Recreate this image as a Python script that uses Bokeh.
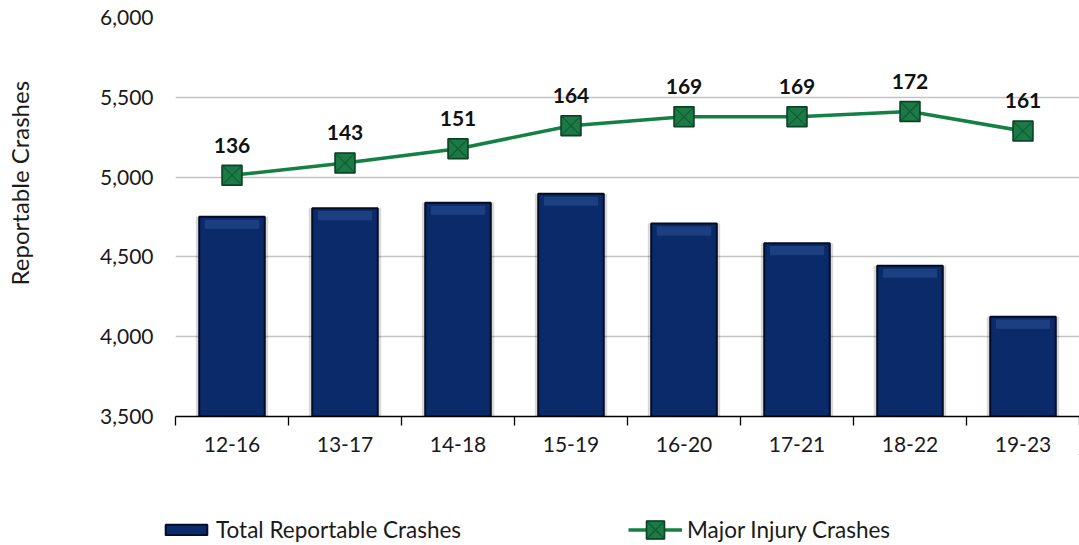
from bokeh.plotting import figure
from bokeh.layouts import column
from bokeh.models import Range1d, FixedTicker, Legend, LegendItem, ColumnDataSource, NumeralTickFormatter
from bokeh.core.properties import value
from bokeh.embed import file_html
from bokeh.resources import INLINE

categories = ["12-16", "13-17", "14-18", "15-19", "16-20", "17-21", "18-22", "19-23"]
total_crashes = [4751, 4805, 4839, 4895, 4709, 4586, 4444, 4125]
major_injury = [136, 143, 151, 164, 169, 169, 172, 161]
series_names = ["Total Reportable Crashes", "Major Injury Crashes"]

FONT = "Lato"
BAR_FILL, BAR_LINE = "#0b2a6a", "#020c24"
LINE_COL, MK_FILL, MK_LINE = "#148043", "#1b7a45", "#0b3f22"

x = [i + 0.5 for i in range(len(categories))]
src = ColumnDataSource(dict(
    x=x, total=total_crashes, inj=major_injury,
    lbl=[str(v) for v in major_injury],
    bevel_top=[v - 18 for v in total_crashes],
    bevel_bot=[v - 75 for v in total_crashes],
))

W = 1079
p = figure(width=W, height=454, output_backend="svg", toolbar_location=None,
           x_range=Range1d(0, len(categories)), y_range=Range1d(3500, 6000),
           min_border_left=175, min_border_top=17, min_border_right=0, min_border_bottom=0)
p.extra_y_ranges = {"inj": Range1d(0, 225)}
p.outline_line_color = None
p.xgrid.grid_line_color = None
p.ygrid.grid_line_color = "#c4c4c4"
p.ygrid.grid_line_width = 1.3

# bars with shadow and bevel
p.vbar(x="x", top="total", bottom=3500, width=0.64, source=src,
       fill_color="#000000", fill_alpha=0.15, line_color=None)
p.vbar(x="x", top="total", bottom=3500, width=0.58, source=src,
       fill_color=BAR_FILL, line_color=BAR_LINE, line_width=2)
p.vbar(x="x", top="bevel_top", bottom="bevel_bot", width=0.48, source=src,
       fill_color="#2c5196", fill_alpha=0.55, line_color=None)

p.line(x="x", y="inj", source=src, y_range_name="inj", line_color=LINE_COL, line_width=3.5)
p.scatter(x="x", y="inj", source=src, y_range_name="inj", marker="square",
          size=20, fill_color=MK_FILL, line_color=MK_LINE, line_width=1.5)
p.scatter(x="x", y="inj", source=src, y_range_name="inj", marker="square_x",
          size=19, fill_color=None, line_color="#0c4a28", line_alpha=0.6, line_width=1.2)
p.text(x="x", y="inj", text="lbl", source=src, y_range_name="inj",
       text_align="center", text_baseline="middle", y_offset=-30,
       text_font=value(FONT), text_font_style="bold", text_font_size="21px",
       text_color="#111111")

# axes
yax = p.yaxis[0]
yax.ticker = FixedTicker(ticks=[3500, 4000, 4500, 5000, 5500, 6000])
yax.formatter = NumeralTickFormatter(format="0,0")
yax.axis_line_color = None
yax.major_tick_line_color = None
yax.minor_tick_line_color = None
yax.major_tick_out = 0
yax.major_label_standoff = 22
yax.major_label_text_font = FONT
yax.major_label_text_font_size = "21px"
yax.major_label_text_color = "#1a1a1a"
yax.axis_label = "\u00a0" * 11 + "Reportable Crashes"
yax.axis_label_text_font = FONT
yax.axis_label_text_font_size = "24px"
yax.axis_label_text_font_style = "normal"
yax.axis_label_text_color = "#1a1a1a"
yax.axis_label_standoff = 63

xax = p.xaxis[0]
xax.ticker = FixedTicker(ticks=x, minor_ticks=list(range(len(categories) + 1)))
xax.major_label_overrides = {xi: c for xi, c in zip(x, categories)}
xax.axis_line_color = "#000000"
xax.axis_line_width = 1.3
xax.major_tick_line_color = None
xax.major_tick_out = 0
xax.major_tick_in = 0
xax.minor_tick_line_color = "#000000"
xax.minor_tick_line_width = 1.3
xax.minor_tick_out = 9
xax.minor_tick_in = 0
xax.major_label_standoff = 11
xax.major_label_text_font = FONT
xax.major_label_text_font_size = "21px"
xax.major_label_text_color = "#1a1a1a"

# legend figure
lg = figure(width=W, height=89, output_backend="svg", toolbar_location=None,
            x_range=Range1d(0, 1), y_range=Range1d(0, 1),
            x_axis_location=None, y_axis_location=None,
            min_border=0, outline_line_color=None)
lg.frame_align = False
lg.grid.visible = False
off = ColumnDataSource(dict(x=[5], y=[5], top=[6]))
r_bar = lg.vbar(x="x", top="top", bottom=5, width=0.5, source=off,
                fill_color=BAR_FILL, line_color=BAR_LINE, line_width=2)
r_line = lg.line(x="x", y="y", source=off, line_color=LINE_COL, line_width=3.5)
r_mk = lg.scatter(x="x", y="y", source=off, marker="square", size=20,
                  fill_color=MK_FILL, line_color=MK_LINE, line_width=1.5)
r_mkx = lg.scatter(x="x", y="y", source=off, marker="square_x", size=19,
                   fill_color=None, line_color="#0c4a28", line_alpha=0.6, line_width=1.2)
common = dict(orientation="horizontal", padding=0, margin=0,
              border_line_color=None, background_fill_alpha=0,
              label_text_font=FONT, label_text_font_size="22.5px", label_text_color="#1a1a1a")
legend1 = Legend(items=[LegendItem(label=series_names[0], renderers=[r_bar])],
                 location=(160, 0), glyph_width=52, glyph_height=13, label_standoff=4, **common)
legend2 = Legend(items=[LegendItem(label=series_names[1], renderers=[r_line, r_mk, r_mkx])],
                 location=(628, -9), glyph_width=54, glyph_height=45, label_standoff=5, **common)
lg.add_layout(legend1, "center")
lg.add_layout(legend2, "center")

layout = column(p, lg, spacing=0)
open("out.html", "w").write(file_html(layout, INLINE))
